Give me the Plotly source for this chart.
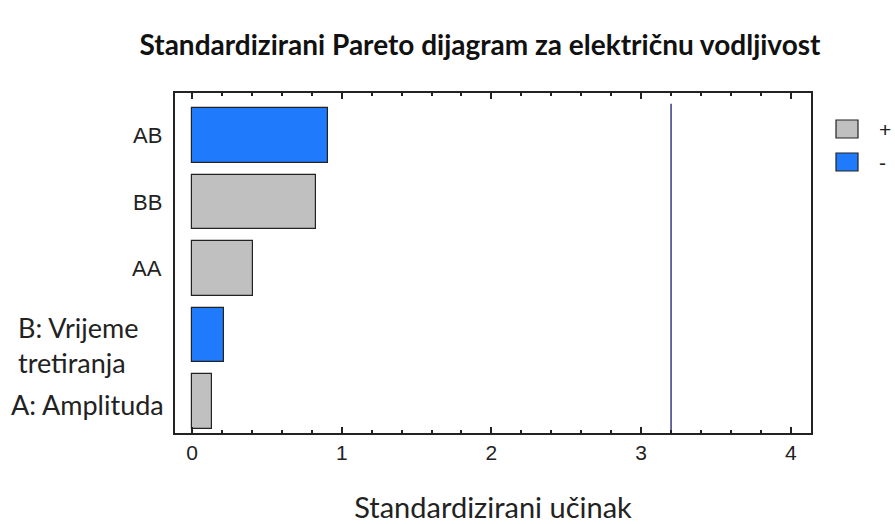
import plotly.graph_objects as go

effects = ["A: Amplituda", "B: Vrijeme<br>tretiranja", "AA", "BB", "AB"]
values = [0.13, 0.21, 0.41, 0.83, 0.91]
signs = ["+", "-", "+", "+", "-"]
critical = 3.2
x_ticks = [0, 1, 2, 3, 4]

GRAY = "#c0c0c0"
BLUE = "#1f7bfb"
pos = [i for i, s in enumerate(signs) if s == "+"]
neg = [i for i, s in enumerate(signs) if s == "-"]

L, R, T, B = 175, 811, 93, 433
PW, PH = R - L, B - T


def px(x):
    return (x - L) / PW


def py(y):
    return 1 - (y - T) / PH


fig = go.Figure()
fig.add_trace(go.Bar(
    x=[values[i] for i in pos], y=pos, orientation="h", base=0,
    marker=dict(color=GRAY, line=dict(color="#222", width=1.2)), width=0.82,
    name="+", showlegend=False))
fig.add_trace(go.Bar(
    x=[values[i] for i in neg], y=neg, orientation="h", base=0,
    marker=dict(color=BLUE, line=dict(color="#222", width=1.2)), width=0.82,
    name="-", showlegend=False))
fig.add_trace(go.Scatter(
    x=[critical, critical], y=[-0.47, 4.48], mode="lines",
    line=dict(color="#1c1c6c", width=1.3), showlegend=False, hoverinfo="skip"))

fig.update_layout(
    width=895, height=524,
    margin=dict(l=L, r=895 - R, t=T, b=524 - B, autoexpand=False),
    plot_bgcolor="white", paper_bgcolor="white",
    title=dict(text="<b>Standardizirani Pareto dijagram za električnu vodljivost</b>",
               x=480 / 895, xanchor="center", y=1 - 45 / 524, yanchor="middle",
               font=dict(family="Lato", size=28, color="#111")),
    bargap=0,
)
fig.update_xaxes(
    range=[-0.114, 4.135], tickvals=x_ticks, ticks="inside", ticklen=6, tickwidth=1.5,
    minor=dict(dtick=0.2, ticks="inside", ticklen=3, tickwidth=1.5, tickcolor="#222"),
    tickcolor="#222", showline=True, linecolor="#222", linewidth=1.5, mirror="allticks",
    showgrid=False, zeroline=False,
    tickfont=dict(family="Liberation Sans", size=21, color="#222"),
    title=dict(text="Standardizirani učinak", standoff=47,
               font=dict(family="Lato", size=29, color="#222")),
)
fig.update_yaxes(
    range=[-0.47, 4.64], showticklabels=False, ticks="",
    showline=True, linecolor="#222", linewidth=1.5, mirror=True,
    showgrid=False, zeroline=False,
)

# y labels
for i, lab in enumerate(effects):
    if lab in ("AA", "BB", "AB"):
        fig.add_annotation(text=lab, x=px(164), xref="paper", y=i, yref="y",
                           xanchor="right", yanchor="middle", showarrow=False,
                           font=dict(family="Liberation Sans", size=22, color="#222"))
fig.add_annotation(text=effects[1], x=px(16), xref="paper", y=1, yref="y",
                   xanchor="left", yanchor="middle", align="left", showarrow=False,
                   yshift=-10, font=dict(family="Lato", size=27, color="#222"))
fig.add_annotation(text=effects[0], x=px(9), xref="paper", y=0, yref="y",
                   xanchor="left", yanchor="middle", align="left", showarrow=False,
                   yshift=-3, font=dict(family="Lato", size=27, color="#222"))

# legend
for k, (col, lab) in enumerate([(GRAY, "+"), (BLUE, "-")]):
    top = 120 + k * 33
    fig.add_shape(type="rect", xref="paper", yref="paper",
                  x0=px(836), x1=px(858), y0=py(top + 18), y1=py(top),
                  fillcolor=col, line=dict(color="#222", width=1.2))
    fig.add_annotation(text=lab, xref="paper", yref="paper",
                       x=px(877), y=py(top + 9), xanchor="left",
                       yanchor="middle", showarrow=False,
                       font=dict(family="Liberation Sans", size=21, color="#222"))

fig.write_html("out.html", config={"displayModeBar": False},
               post_script="document.body.style.margin='0';document.body.style.overflow='hidden';")
